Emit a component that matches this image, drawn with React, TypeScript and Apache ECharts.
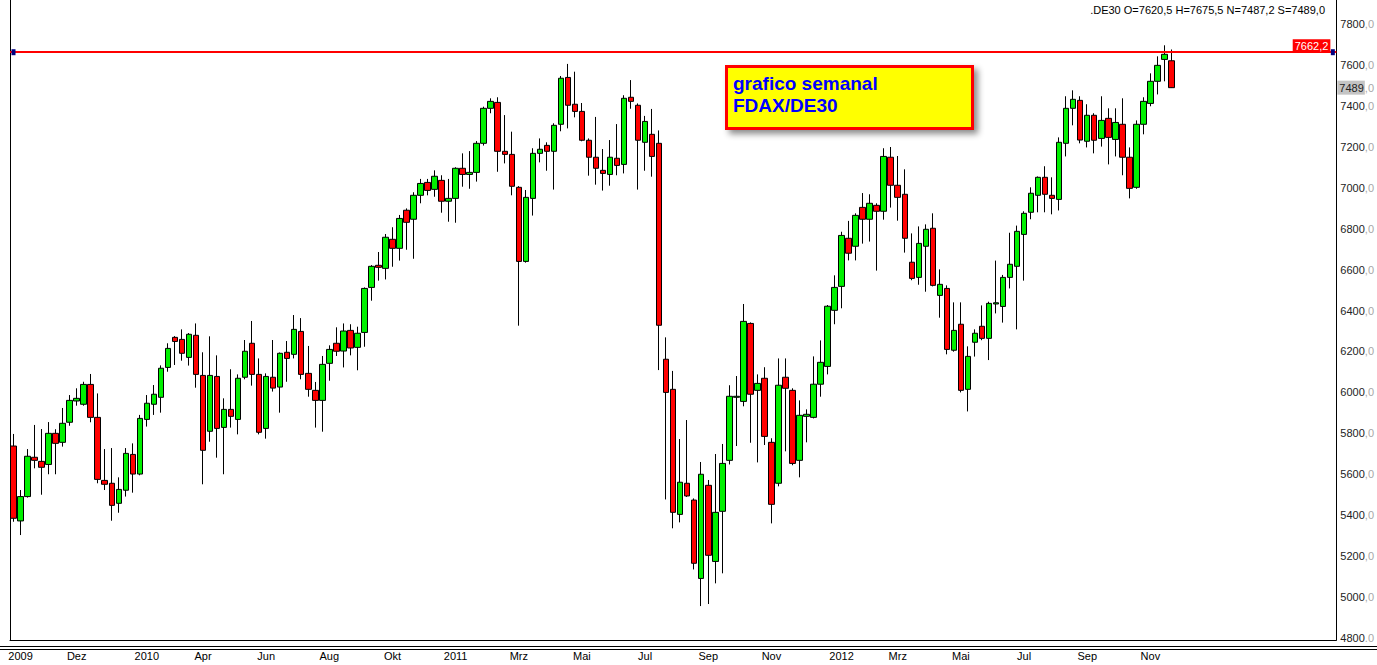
import React, { useEffect, useRef } from 'react';
import * as echarts from 'echarts';

// ---- weekly categories (calendar weeks, incl. empty future slots on the right)
const START_MS = Date.UTC(2009, 9, 26);
const WEEK_SLOTS = 189;
const categories: string[] = [];
for (let i = 0; i < WEEK_SLOTS; i++) {
  categories.push(new Date(START_MS + i * 7 * 86400000).toISOString().slice(0, 10));
}

// ---- candle values
const opens = [
  5738, 5372, 5491, 5683, 5663, 5648, 5800, 5756, 5854, 5958,
  5942, 6039, 5878, 5570, 5556, 5458, 5522, 5697, 5601, 5868,
  5942, 5976, 6122, 6269, 6259, 6171, 6279, 6083, 5810, 6078,
  5829, 5917, 5868, 6074, 6240, 6088, 5824, 6074, 6026, 6196,
  6186, 6298, 6093, 6010, 5961, 6142, 6240, 6202, 6303, 6220,
  6293, 6513, 6621, 6606, 6748, 6704, 6890, 6846, 6963, 7026,
  6992, 7036, 6934, 6948, 7095, 7065, 7075, 7217, 7388, 7417,
  7178, 7163, 7002, 6640, 6948, 7168, 7207, 7178, 7310, 7539,
  7408, 7373, 7232, 7149, 7085, 7065, 7144, 7114, 7442, 7403,
  7222, 7261, 7217, 6162, 6015, 5404, 5556, 5474, 5091, 5546,
  5174, 5419, 5668, 5976, 5956, 6337, 6010, 6069, 5756, 5556,
  6074, 6010, 5668, 5883, 5878, 6040, 6127, 6401, 6518, 6753,
  6714, 6904, 6846, 6914, 6885, 7149, 7012, 6968, 6636, 6562,
  6714, 6802, 6474, 6508, 6206, 6333, 6015, 6245, 6323, 6264,
  6432, 6420, 6562, 6616, 6772, 6880, 6963, 7051, 6963, 6943,
  7217, 7388, 7427, 7227, 7354, 7241, 7339, 7236, 7310, 7149,
  7002, 7310, 7412, 7520, 7627, 7620.5,
];
const highs = [
  5797, 5523, 5723, 5841, 5821, 5855, 5820, 5924, 5987, 6020,
  6052, 6090, 5995, 5723, 5728, 5585, 5728, 5751, 5890, 5987,
  6036, 6132, 6240, 6275, 6308, 6290, 6337, 6196, 6274, 6181,
  5971, 6113, 6088, 6256, 6349, 6166, 6093, 6256, 6195, 6251,
  6378, 6363, 6227, 6051, 6178, 6230, 6318, 6337, 6333, 6321,
  6513, 6622, 6686, 6774, 6807, 6867, 6899, 6978, 7043, 7043,
  7085, 7061, 7043, 7100, 7168, 7179, 7228, 7396, 7437, 7442,
  7355, 7274, 7008, 6989, 7193, 7241, 7222, 7315, 7546, 7605,
  7567, 7414, 7241, 7346, 7189, 7233, 7311, 7452, 7526, 7412,
  7351, 7385, 7280, 6269, 6105, 5772, 5865, 5482, 5660, 5572,
  5699, 5748, 6035, 6080, 6432, 6342, 6088, 6123, 5776, 6166,
  6166, 6020, 5961, 5917, 6176, 6254, 6427, 6572, 6785, 6838,
  6875, 6974, 6968, 6924, 7193, 7199, 7155, 7090, 6777, 6811,
  6821, 6875, 6601, 6523, 6440, 6440, 6225, 6308, 6425, 6443,
  6644, 6574, 6780, 6815, 6885, 7002, 7055, 7105, 7051, 7246,
  7447, 7476, 7447, 7408, 7364, 7447, 7388, 7388, 7437, 7197,
  7329, 7442, 7559, 7642, 7696, 7675.5,
];
const lows = [
  5368, 5303, 5486, 5629, 5500, 5600, 5600, 5735, 5837, 5935,
  5935, 5854, 5556, 5523, 5373, 5412, 5491, 5510, 5595, 5833,
  5890, 5901, 6101, 6134, 6155, 6131, 6023, 5551, 5759, 5681,
  5600, 5828, 5795, 6064, 6033, 5795, 5774, 6004, 5901, 6052,
  6166, 6064, 5979, 5828, 5808, 6057, 6178, 6122, 6181, 6108,
  6223, 6448, 6546, 6552, 6614, 6644, 6697, 6653, 6924, 6963,
  6956, 6878, 6834, 6829, 7005, 6995, 7030, 7206, 7364, 7078,
  7119, 6963, 6326, 6634, 6864, 7124, 7083, 6991, 7276, 7290,
  7344, 7227, 7059, 7015, 6986, 7010, 7061, 7070, 7386, 6991,
  7083, 7054, 6109, 5477, 5336, 5365, 5489, 5135, 4956, 4966,
  5067, 5116, 5648, 5738, 5932, 5754, 5658, 5743, 5360, 5541,
  5712, 5644, 5585, 5756, 5873, 5979, 6088, 6333, 6411, 6645,
  6645, 6727, 6737, 6595, 6844, 6903, 6839, 6683, 6548, 6526,
  6492, 6518, 6365, 6186, 6199, 6000, 5907, 6175, 6255, 6158,
  6386, 6341, 6508, 6308, 6546, 6846, 6880, 6880, 6870, 6889,
  7153, 7305, 7217, 7197, 7168, 7201, 7114, 7153, 7061, 6948,
  6995, 7261, 7398, 7456, 7520, 7487.2,
];
const closes = [
  5385, 5491, 5688, 5668, 5634, 5800, 5751, 5849, 5961, 5971,
  6039, 5878, 5575, 5551, 5448, 5526, 5702, 5601, 5873, 5947,
  5991, 6118, 6215, 6249, 6191, 6284, 6088, 5717, 6083, 5824,
  5917, 5883, 6069, 6201, 6088, 5805, 6078, 6021, 6191, 6166,
  6308, 6088, 6015, 5961, 6137, 6210, 6201, 6300, 6217, 6289,
  6508, 6616, 6611, 6758, 6704, 6850, 6831, 6963, 7021, 6987,
  7056, 6934, 6948, 7095, 7065, 7075, 7217, 7388, 7422, 7178,
  7163, 7007, 6640, 6953, 7168, 7188, 7178, 7305, 7535, 7403,
  7373, 7232, 7149, 7095, 7070, 7149, 7109, 7437, 7422, 7232,
  7324, 7153, 6328, 6000, 5414, 5561, 5494, 5165, 5600, 5204,
  5414, 5653, 5981, 5981, 6347, 5991, 6044, 5785, 5453, 6035,
  6020, 5653, 5888, 5893, 6040, 6147, 6421, 6513, 6767, 6680,
  6865, 6846, 6924, 6885, 7153, 7012, 6953, 6753, 6557, 6728,
  6797, 6523, 6528, 6210, 6303, 6010, 6176, 6289, 6264, 6435,
  6438, 6562, 6626, 6787, 6875, 6973, 7051, 6968, 6948, 7222,
  7388, 7432, 7233, 7354, 7232, 7329, 7246, 7319, 7149, 6997,
  7310, 7422, 7520, 7598, 7652, 7489.0,
];

// ---- axis labels
const xTickIndex = [1, 9, 19, 27, 36, 45, 54, 63, 72, 81, 90, 99, 108, 118, 126, 135, 144, 153, 162];
const xTickText = ['2009', 'Dez', '2010', 'Apr', 'Jun', 'Aug', 'Okt', '2011', 'Mrz', 'Mai', 'Jul', 'Sep', 'Nov', '2012', 'Mrz', 'Mai', 'Jul', 'Sep', 'Nov'];
const yTicks = [4800, 5000, 5200, 5400, 5600, 5800, 6000, 6200, 6400, 6600, 6800, 7000, 7200, 7400, 7600, 7800];
const resistanceLevel = 7662.2;
const symbolName = '.DE30';
const boxLines = ['grafico semanal', 'FDAX/DE30'];

const FONT = '"Liberation Sans", Arial, Helvetica, sans-serif';
const fmt = (v: number) => v.toFixed(1).replace('.', ',');

export default function App() {
  const ref = useRef<HTMLDivElement>(null);

  useEffect(() => {
    if (!ref.current) return;
    const chart = echarts.init(ref.current, null, { renderer: 'svg' });
    const n = closes.length;
    const last = n - 1;
    const candleData = opens.map((o, i) => [o, closes[i], lows[i], highs[i]]);
    const labelMap: Record<number, string> = {};
    xTickIndex.forEach((idx, k) => (labelMap[idx] = xTickText[k]));
    const lastClose = closes[last];
    const [ci, cd] = fmt(lastClose).split(',');
    const [ri, rd] = fmt(resistanceLevel).split(',');

    const option: any = {
      animation: false,
      backgroundColor: '#ffffff',
      textStyle: { fontFamily: FONT },
      title: {
        text: `${symbolName} O=${fmt(opens[last])} H=${fmt(highs[last])} N=${fmt(lows[last])} S=${fmt(closes[last])}`,
        right: 52,
        top: 0,
        padding: [4, 0, 0, 0],
        textStyle: { fontSize: 11, fontWeight: 'normal', color: '#000', fontFamily: FONT },
      },
      grid: { left: 10, right: 39, top: 0, bottom: 25, containLabel: false },
      xAxis: {
        type: 'category',
        data: categories,
        boundaryGap: true,
        axisLine: { show: true, lineStyle: { color: '#000', width: 1 } },
        axisTick: { show: false },
        splitLine: { show: false },
        axisLabel: {
          interval: 0,
          margin: 10,
          fontSize: 11,
          color: '#000',
          fontFamily: FONT,
          formatter: (_v: string, idx: number) => labelMap[idx] ?? '',
        },
      },
      yAxis: [
        {
          type: 'value',
          position: 'right',
          min: 4790.2,
          max: 7917.3,
          scale: true,
          axisLine: { show: true, lineStyle: { color: '#000', width: 1 } },
          axisTick: { show: false },
          splitLine: { show: false },
          axisLabel: {
            customValues: yTicks,
            showMinLabel: true,
            showMaxLabel: true,
            margin: 4,
            fontFamily: FONT,
            formatter: (v: number) => (v % 200 === 0 ? `{a|${v}}{b|,0}` : ''),
            rich: {
              a: { fontSize: 11, color: '#222', fontFamily: FONT },
              b: { fontSize: 11, color: '#a8a8a8', fontFamily: FONT },
            },
          },
        },
        {
          type: 'value',
          position: 'left',
          min: 4790.2,
          max: 7917.3,
          axisLine: { show: true, lineStyle: { color: '#000', width: 1 } },
          axisTick: { show: false },
          axisLabel: { show: false },
          splitLine: { show: false },
        },
      ],
      series: [
        {
          type: 'candlestick',
          yAxisIndex: 0,
          data: candleData,
          barWidth: 6,
          clip: false,
          itemStyle: {
            color: '#00f000',
            color0: '#ff0000',
            borderColor: '#000000',
            borderColor0: '#000000',
            borderWidth: 1,
          },
          markLine: {
            silent: true,
            symbol: ['none', 'none'],
            animation: false,
            data: [
              {
                yAxis: resistanceLevel,
                lineStyle: { color: '#ff0000', width: 2, type: 'solid' },
                label: {
                  show: true,
                  position: 'insideEndTop',
                  distance: [6, 1],
                  formatter: `${ri},${rd}`,
                  color: '#ffffff',
                  backgroundColor: '#ff0000',
                  padding: [1, 2, 0, 2],
                  fontSize: 11,
                  fontFamily: FONT,
                },
              },
              {
                yAxis: lastClose,
                lineStyle: { color: 'rgba(255,255,255,0)', width: 1, type: 'solid' },
                label: {
                  show: true,
                  position: 'end',
                  distance: 1,
                  formatter: `{a|${ci}}{b|,${cd}}`,
                  rich: {
                    a: { fontSize: 11, color: '#222', backgroundColor: '#c4c4c4', padding: [2, 1, 1, 2], fontFamily: FONT },
                    b: { fontSize: 11, color: '#a8a8a8', fontFamily: FONT },
                  },
                },
              },
            ],
          },
          markPoint: {
            silent: true,
            symbol: 'rect',
            symbolSize: [4, 6],
            label: { show: false },
            itemStyle: { color: '#000080' },
            data: [
              { coord: [categories[0], resistanceLevel] },
              { coord: [categories[WEEK_SLOTS - 1], resistanceLevel] },
            ],
          },
        },
      ],
      graphic: [
        {
          type: 'rect',
          z: 50,
          shape: { x: 1339, y: 642, width: 38, height: 23 },
          style: { fill: '#ffffff' },
        },
        {
          type: 'line',
          z: 51,
          shape: { x1: 0, y1: 646.5, x2: 1377, y2: 646.5 },
          style: { stroke: '#000', lineWidth: 1 },
        },
        {
          type: 'line',
          z: 51,
          shape: { x1: 0, y1: 649.5, x2: 1377, y2: 649.5 },
          style: { stroke: '#000', lineWidth: 1 },
        },
        {
          type: 'rect',
          z: 60,
          shape: { x: 726.5, y: 66.5, width: 246, height: 62 },
          style: {
            fill: '#ffff00',
            stroke: '#ff0000',
            lineWidth: 3,
            shadowBlur: 6,
            shadowOffsetX: 4,
            shadowOffsetY: 4,
            shadowColor: 'rgba(0,0,0,0.45)',
          },
        },
        {
          type: 'text',
          z: 61,
          x: 733,
          y: 83,
          style: { text: boxLines[0], fill: '#0000ff', font: `bold 19px ${FONT}`, verticalAlign: 'middle', align: 'left' },
        },
        {
          type: 'text',
          z: 61,
          x: 733,
          y: 105,
          style: { text: boxLines[1], fill: '#0000ff', font: `bold 19px ${FONT}`, verticalAlign: 'middle', align: 'left' },
        },
      ],
    };

    chart.setOption(option);
    return () => chart.dispose();
  }, []);

  return (
    <div
      ref={ref}
      style={{ position: 'absolute', left: 0, top: 0, width: 1377, height: 665, background: '#ffffff' }}
    />
  );
}
